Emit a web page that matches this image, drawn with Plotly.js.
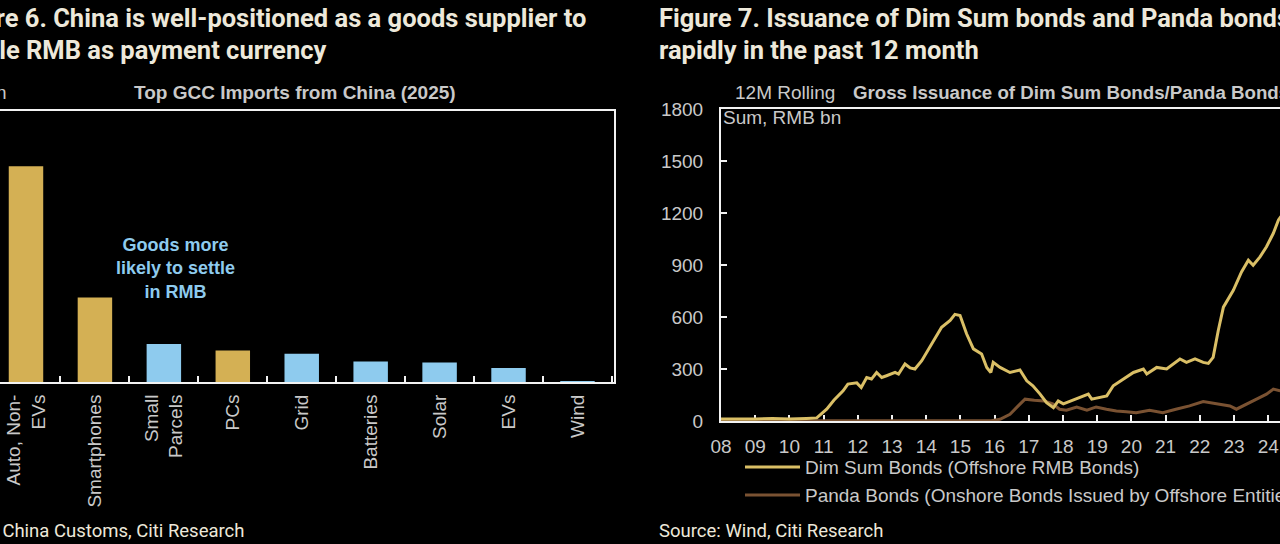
<!DOCTYPE html>
<html>
<head>
<meta charset="utf-8">
<script src="https://cdn.plot.ly/plotly-3.0.1.min.js"></script>
<style>
html,body{margin:0;padding:0;background:#000;}
#chart{width:1280px;height:544px;}
</style>
</head>
<body>
<div id="chart"></div>
<script>
// ---------- Figure 6 data (Top GCC imports from China, 2025) ----------
var importCategories = ["Auto, Non-<br>EVs", "Smartphones", "Small<br>Parcels", "PCs", "Grid", "Batteries", "Solar", "EVs", "Wind"];
var importValues = [19.9, 7.8, 3.5, 2.9, 2.6, 1.9, 1.8, 1.3, 0.1];
var settleInRMB = [false, false, true, false, true, true, true, true, true];

// ---------- Figure 7 data (12M rolling gross issuance, RMB bn) ----------
var dimSumX = [2008.0, 2008.5, 2009.0, 2009.5, 2010.0, 2010.5, 2010.8, 2011.09, 2011.3, 2011.57, 2011.71, 2011.97, 2012.1, 2012.26, 2012.4, 2012.55, 2012.7, 2012.84, 2013.09, 2013.19, 2013.38, 2013.53, 2013.67, 2013.87, 2014.05, 2014.21, 2014.45, 2014.7, 2014.84, 2014.99, 2015.18, 2015.38, 2015.62, 2015.77, 2015.89, 2015.96, 2016.16, 2016.45, 2016.74, 2016.94, 2017.12, 2017.33, 2017.52, 2017.72, 2017.86, 2018.01, 2018.25, 2018.5, 2018.74, 2018.84, 2019.08, 2019.28, 2019.47, 2019.76, 2020.06, 2020.35, 2020.45, 2020.74, 2021.03, 2021.42, 2021.61, 2021.86, 2022.1, 2022.25, 2022.39, 2022.54, 2022.69, 2022.98, 2023.22, 2023.42, 2023.56, 2023.76, 2023.95, 2024.15, 2024.3, 2024.45];
var dimSumY = [12, 10, 12, 14, 12, 15, 18, 68, 120, 174, 213, 220, 193, 251, 242, 280, 251, 261, 280, 271, 329, 306, 300, 348, 410, 464, 541, 580, 615, 609, 503, 416, 387, 309, 280, 338, 309, 280, 294, 232, 203, 155, 106, 77, 116, 99, 116, 135, 155, 126, 135, 145, 203, 242, 280, 300, 271, 309, 300, 358, 338, 358, 338, 332, 367, 522, 657, 754, 860, 928, 899, 947, 1005, 1083, 1160, 1200];
var pandaX = [2008.0, 2010.0, 2012.0, 2014.0, 2015.9, 2016.16, 2016.45, 2016.69, 2016.89, 2017.16, 2017.45, 2017.7, 2017.9, 2018.1, 2018.4, 2018.7, 2018.97, 2019.27, 2019.56, 2019.85, 2020.14, 2020.53, 2020.92, 2021.3, 2021.7, 2022.1, 2022.49, 2022.88, 2023.07, 2023.37, 2023.66, 2023.95, 2024.15, 2024.35];
var pandaY = [1, 1, 1, 1, 2, 10, 39, 87, 126, 120, 116, 99, 68, 62, 81, 62, 81, 68, 58, 54, 48, 62, 48, 68, 87, 112, 100, 87, 68, 100, 126, 155, 184, 174];
var yearTicks = [2008, 2009, 2010, 2011, 2012, 2013, 2014, 2015, 2016, 2017, 2018, 2019, 2020, 2021, 2022, 2023, 2024];
var yearLabels = ["08", "09", "10", "11", "12", "13", "14", "15", "16", "17", "18", "19", "20", "21", "22", "23", "24"];
var issuanceTicks = [0, 300, 600, 900, 1200, 1500, 1800];
var seriesNames = ["Dim Sum Bonds (Offshore RMB Bonds)", "Panda Bonds (Onshore Bonds Issued by Offshore Entities)"];

// ---------- styling ----------
var W = 1280, H = 544;
function px(x){ return x / W; }
function py(y){ return 1 - y / H; }
var SANS = "'Liberation Sans', Arial, sans-serif";
var TITLE = "Roboto, 'Noto Sans', sans-serif";
var GOLD = "#d4b054", BLUE = "#8ecbee";
var DIMSUM = "#dabf66", PANDA = "#7a5232";
var GRAY = "#c9c9c9", CREAM = "#ede8da", AXIS = "#f2f2f2";

var barColors = settleInRMB.map(function(s){ return s ? BLUE : GOLD; });

var traces = [
  {type: "bar", x: importCategories, y: importValues, xaxis: "x", yaxis: "y",
   marker: {color: barColors}, width: 0.5, showlegend: false, hoverinfo: "x+y"},
  {type: "scatter", mode: "lines", x: pandaX, y: pandaY, xaxis: "x2", yaxis: "y2",
   name: seriesNames[1], line: {color: PANDA, width: 3}, showlegend: false},
  {type: "scatter", mode: "lines", x: dimSumX, y: dimSumY, xaxis: "x2", yaxis: "y2",
   name: seriesNames[0], line: {color: DIMSUM, width: 3}, showlegend: false}
];

function ann(x, y, text, anchor, font){
  return {xref: "paper", yref: "paper", x: px(x), y: py(y), xanchor: anchor, yanchor: "middle",
          text: text, showarrow: false, font: font};
}
var chartFont = {family: SANS, size: 19, color: GRAY};
var titleFont = {family: TITLE, size: 25.5, color: CREAM};
var srcFont = {family: TITLE, size: 18.5, color: CREAM};

var layout = {
  width: W, height: H,
  margin: {l: 0, r: 0, t: 0, b: 0, pad: 0},
  paper_bgcolor: "#000", plot_bgcolor: "#000",
  font: {family: SANS, color: GRAY},
  showlegend: false,
  xaxis: {
    domain: [0, px(614)], range: [-0.377, 8.53], type: "category",
    showline: true, mirror: true, linecolor: AXIS, linewidth: 2,
    ticks: "inside", tickson: "boundaries", ticklen: 6, tickcolor: AXIS, tickwidth: 2,
    tickangle: -90, tickfont: chartFont,
    ticklabelstandoff: 3, showgrid: false, zeroline: false, fixedrange: true
  },
  yaxis: {
    domain: [py(382), py(111)], range: [0, 25],
    showticklabels: false, ticks: "", showgrid: false, zeroline: false,
    side: "right", showline: true, linecolor: AXIS, linewidth: 2
  },
  xaxis2: {
    domain: [px(721), 1], range: [2008, 2024.345], anchor: "y2",
    tickmode: "array", tickvals: yearTicks, ticktext: yearLabels,
    showline: true, mirror: true, linecolor: AXIS, linewidth: 2,
    ticks: "inside", ticklen: 6, tickcolor: AXIS, tickwidth: 2,
    tickfont: chartFont, ticklabelstandoff: 7,
    showgrid: false, zeroline: false, layer: "below traces"
  },
  yaxis2: {
    domain: [py(421), py(109)], range: [0, 1800], anchor: "x2",
    tickmode: "array", tickvals: issuanceTicks,
    showline: true, linecolor: AXIS, linewidth: 2,
    ticks: "inside", ticklen: 6, tickcolor: AXIS, tickwidth: 2,
    tickfont: chartFont, ticklabelstandoff: 12,
    showgrid: false, zeroline: false, layer: "below traces"
  },
  shapes: [
    {type: "line", xref: "paper", yref: "paper", x0: px(745), x1: px(800), y0: py(467), y1: py(467),
     line: {color: DIMSUM, width: 3}},
    {type: "line", xref: "paper", yref: "paper", x0: px(745), x1: px(800), y0: py(495), y1: py(495),
     line: {color: PANDA, width: 3}}
  ],
  annotations: [
    ann(588, 18, "<b>Figure 6. China is well-positioned as a goods supplier to</b>", "right", titleFont),
    ann(328, 50, "<b>settle RMB as payment currency</b>", "right", titleFont),
    ann(657, 18, "<b>Figure 7. Issuance of Dim Sum bonds and Panda bonds grew</b>", "left", titleFont),
    ann(657, 50, "<b>rapidly in the past 12 month</b>", "left", titleFont),
    ann(9, 92, "USD bn", "right", chartFont),
    ann(295, 92, "<b>Top GCC Imports from China (2025)</b>", "center", chartFont),
    ann(175, 268, "<b>Goods more<br>likely to settle<br>in RMB</b>", "center", {family: SANS, size: 18, color: BLUE}),
    ann(733, 92, "12M Rolling", "left", chartFont),
    ann(851, 92, "<b>Gross Issuance of Dim Sum Bonds/Panda Bonds</b>", "left", {family: SANS, size: 18.7, color: GRAY}),
    ann(721, 117, "Sum, RMB bn", "left", chartFont),
    ann(803, 467, seriesNames[0], "left", chartFont),
    ann(803, 495, seriesNames[1], "left", chartFont),
    ann(246, 531, "Source: China Customs, Citi Research", "right", srcFont),
    ann(657, 531, "Source: Wind, Citi Research", "left", srcFont)
  ]
};

Plotly.newPlot("chart", traces, layout, {displayModeBar: false, staticPlot: true});
</script>
</body>
</html>
